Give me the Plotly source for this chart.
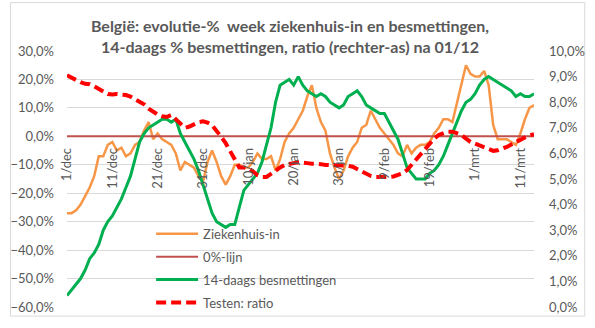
import pandas as pd
import plotly.graph_objects as go

start_date = "2020-12-01"
n_days = 104
dates = pd.date_range(start_date, periods=n_days)

ziekenhuis_in = [
    -27, -27, -26, -24, -21, -18, -14, -7, -7, -3,
    -2, -5, -4, -7, -6, -3, -2, 2, 5, -1,
    1, -1, -2, -3, -6, -12, -9, -10, -11, -14,
    -16, -9, -5, -9, -14, -17, -14, -10, -10, -11,
    -11, -9, -6, -8, -8, -7, -12, -8, -2, 1,
    3, 6, 9, 14, 18, 10, 5, 2, -6, -11,
    -15, -12, -7, -4, -2, 3, 4, 9, 6, 3,
    1, -1, -3, -6, -7, -3, -6, -4, -3, -3,
    -2, 1, 3, 6, 6, 5, 12, 18, 25, 22,
    21, 21, 23, 18, 4, -1, -1, -1, -2, -3,
    1, 6, 10, 11,
]

besmettingen_14d = [
    -56, -54, -52, -50, -47, -43, -41, -38, -33, -30,
    -28, -25, -22, -18, -14, -8, -2, 1, 3, 4,
    5, 6, 6, 5, 6, 1, -2, -5, -8, -12,
    -17, -22, -27, -30, -31, -32, -31, -31, -25, -19,
    -17, -15, -13, -9, -3, 3, 12, 18, 19, 20,
    18, 21, 18, 16, 15, 14, 15, 14, 12, 11,
    10, 11, 14, 15, 16, 14, 11, 10, 9, 8,
    8, 5, 2, -1, -6, -11, -13, -15, -15, -15,
    -13, -12, -10, -7, -3, 1, 5, 9, 12, 13,
    15, 18, 20, 21, 20, 19, 18, 17, 16, 14,
    15, 14, 14, 15,
]

testen_ratio = [
    9.05, 8.95, 8.85, 8.78, 8.72, 8.70, 8.62, 8.52, 8.42, 8.32,
    8.30, 8.32, 8.30, 8.28, 8.22, 8.12, 8.02, 7.92, 7.75, 7.62,
    7.52, 7.45, 7.42, 7.50, 7.35, 7.15, 7.00, 7.05, 7.15, 7.22,
    7.25, 7.20, 7.10, 6.90, 6.65, 6.40, 6.10, 5.75, 5.45, 5.45,
    5.42, 5.30, 5.15, 5.08, 5.08, 5.20, 5.35, 5.45, 5.55, 5.60,
    5.62, 5.65, 5.65, 5.62, 5.60, 5.60, 5.58, 5.55, 5.55, 5.55,
    5.55, 5.55, 5.52, 5.48, 5.38, 5.30, 5.20, 5.12, 5.08, 5.07,
    5.07, 5.08, 5.10, 5.15, 5.22, 5.35, 5.55, 5.75, 5.98, 6.20,
    6.40, 6.58, 6.72, 6.80, 6.85, 6.85, 6.80, 6.72, 6.58, 6.45,
    6.38, 6.30, 6.22, 6.15, 6.10, 6.12, 6.18, 6.25, 6.35, 6.45,
    6.52, 6.62, 6.70, 6.75,
]

nul_lijn = [0] * n_days

tick_dates = ["2020-12-01", "2020-12-11", "2020-12-21", "2020-12-31", "2021-01-10",
              "2021-01-20", "2021-01-30", "2021-02-09", "2021-02-19", "2021-03-01",
              "2021-03-11"]
tick_labels = ["1/dec", "11/dec", "21/dec", "31/dec", "10/jan", "20/jan",
               "30/jan", "9/feb", "19/feb", "1/mrt", "11/mrt"]

title_text = ("België: evolutie-%  week ziekenhuis-in en besmettingen,<br>"
              "14-daags % besmettingen, ratio (rechter-as) na 01/12")

FONT = "Lato"
TXT = "#595959"
W, H = 595, 328
L, R, T, B = 59, 53, 51, 10
pw, ph = W - L - R, H - T - B

fig = go.Figure()
fig.add_trace(go.Scatter(x=dates, y=ziekenhuis_in, name="Ziekenhuis-in", mode="lines",
                         line=dict(color="#F79646", width=2.5), legendgroup="a"))
fig.add_trace(go.Scatter(x=dates, y=nul_lijn, name="0%-lijn", mode="lines",
                         line=dict(color="#C0504D", width=2), legendgroup="b"))
fig.add_trace(go.Scatter(x=dates, y=besmettingen_14d, name="14-daags besmettingen", mode="lines",
                         line=dict(color="#00B050", width=3), legendgroup="c"))
fig.add_trace(go.Scatter(x=dates, y=testen_ratio, name="Testen: ratio", mode="lines",
                         line=dict(color="#FF0000", width=4, dash="10px,5px"),
                         yaxis="y2", legendgroup="d"))

fig.update_layout(
    width=W, height=H,
    margin=dict(l=L, r=R, t=T, b=B, pad=0),
    paper_bgcolor="white", plot_bgcolor="white",
    separators=",.",
    font=dict(family=FONT, size=13, color=TXT),
    title=dict(text=title_text, x=290 / W, xanchor="center", y=1 - 32 / H, yanchor="top",
               font=dict(family=FONT, size=16, color=TXT, weight="bold")),
    showlegend=True,
    legend=dict(x=(146 - L) / pw, xanchor="left", y=(H - B - 226) / ph, yanchor="top",
                bgcolor="rgba(0,0,0,0)", font=dict(family=FONT, size=13, color=TXT),
                tracegroupgap=3, itemwidth=42),
    xaxis=dict(type="date", range=[dates[0], dates[-1]], anchor="free", position=60 / 90,
               tickmode="array", tickvals=tick_dates, ticktext=tick_labels, tickangle=-90,
               showgrid=False, showline=False, zeroline=False, ticks="",
               ticklabelstandoff=8,
               tickfont=dict(family=FONT, size=13, color=TXT)),
    yaxis=dict(range=[-60, 30], dtick=10, tick0=0, tickformat=".1f", ticksuffix="%",
               showgrid=True, gridcolor="#D9D9D9", gridwidth=1, zeroline=False,
               showline=False, ticks="", ticklabelstandoff=12,
               tickfont=dict(family=FONT, size=13, color=TXT)),
    yaxis2=dict(range=[0, 10], dtick=1, tick0=0, tickformat=".1f", ticksuffix="%",
                overlaying="y", side="right", showgrid=False, zeroline=False,
                showline=False, ticks="", ticklabelstandoff=14,
                tickfont=dict(family=FONT, size=13, color=TXT)),
    shapes=[dict(type="rect", xref="paper", yref="paper",
                 x0=-(L - 0.5) / pw, x1=1 + (R - 0.5) / pw,
                 y0=-(B - 0.5) / ph, y1=1 + (T - 0.5) / ph,
                 line=dict(color="#D9D9D9", width=1), layer="below")],
)

fig.write_html("out.html")
